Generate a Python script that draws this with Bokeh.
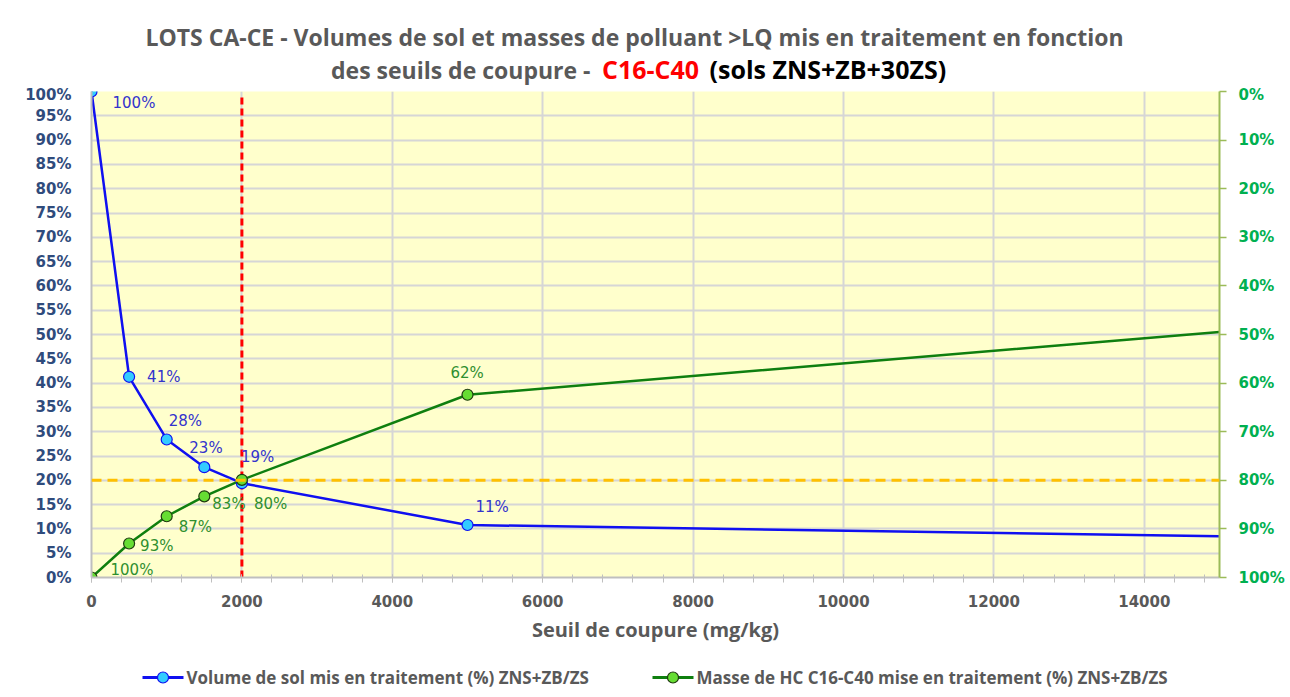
from bokeh.plotting import figure
from bokeh.layouts import column
from bokeh.models import (Range1d, LinearAxis, SingleIntervalTicker, PrintfTickFormatter,
                          Span, ColumnDataSource)
from bokeh.core.properties import value
from bokeh.embed import file_html
from bokeh.resources import INLINE

# ---------------- data ----------------
seuils = [0, 500, 1000, 1500, 2000, 5000, 15000]            # mg/kg
volume_pct = [100, 41.3, 28.4, 22.7, 19.4, 10.8, 8.5]        # left axis (%)
masse_pct = [100, 93.0, 87.4, 83.3, 79.9, 62.4, 49.5]        # right axis, reversed (%)
volume_labels = ["100%", "41%", "28%", "23%", "19%", "11%"]
masse_labels = ["100%", "93%", "87%", "83%", "80%", "62%"]
n_points = 6                                                  # labelled/marked points
seuil_retenu = 2000
volume_cible = 20
vertical_top = 98.8

title_line1 = "LOTS CA-CE - Volumes de sol et masses de polluant >LQ mis en traitement en fonction"
title_line2a = "des seuils de coupure -"
title_line2b = "C16-C40"
title_line2c = "(sols ZNS+ZB+30ZS)"
x_label = "Seuil de coupure (mg/kg)"
legend_volume = "Volume de sol mis en traitement (%) ZNS+ZB/ZS"
legend_masse = "Masse de HC C16-C40 mise en traitement  (%) ZNS+ZB/ZS"

# ---------------- style / layout ----------------
W = 1290
BORDER_L, BORDER_R = 91, 71
TITLE_H, MAIN_H, LEG_H = 85, 560, 52
vol_dx = [21, 18, 2, -15, -1, 8]
vol_dy = [11, 0, -18, -19, -26, -18]
mas_dx = [19, 11, 12, 8, 12, -17]
mas_dy = [-8, 3, 11, 8, 24, -22]

BLUE = "#1010F0"
BLUE_FILL = "#33CCFF"
GREEN = "#0F7F0F"
GREEN_FILL = "#66DD33"
MARKER_EDGE_G = "#1F3A10"
GRID = "#D6D6D6"
TITLE_GRAY = "#595959"


def bare_fig(h):
    # frames are aligned with the main chart's frame in a column layout,
    # so map the frame span to page pixel coordinates
    f = figure(width=W, height=h, output_backend="svg", toolbar_location=None,
               x_range=Range1d(BORDER_L, W - BORDER_R), y_range=Range1d(h, 0),
               min_border=0, min_border_left=BORDER_L, min_border_right=BORDER_R,
               outline_line_color=None, background_fill_color="white",
               border_fill_color="white")
    f.axis.visible = False
    f.grid.visible = False
    return f


# ---------------- title strip ----------------
t = bare_fig(TITLE_H)
t.text(x=[634], y=[36], text=[title_line1], text_font=value("Open Sans"),
       text_font_style="bold", text_font_size="23px", text_color=TITLE_GRAY,
       text_align="center", text_baseline="middle")
t.text(x=[590], y=[69], text=[title_line2a], text_font=value("Open Sans"),
       text_font_style="bold", text_font_size="23px", text_color=TITLE_GRAY,
       text_align="right", text_baseline="middle")
t.text(x=[650], y=[68], text=[title_line2b], text_font=value("Open Sans"),
       text_font_style="bold", text_font_size="25px", text_color="#FF0000",
       text_align="center", text_baseline="middle")
t.text(x=[709], y=[68], text=[title_line2c], text_font=value("Open Sans"),
       text_font_style="bold", text_font_size="25px", text_color="#000000",
       text_align="left", text_baseline="middle")

# ---------------- main chart ----------------
p = figure(width=W, height=MAIN_H, output_backend="svg", toolbar_location=None,
           x_range=Range1d(0, 15000), y_range=Range1d(0, 100),
           min_border_left=BORDER_L, min_border_right=BORDER_R, min_border_top=6,
           min_border_bottom=67,
           background_fill_color="#FFFFCC", border_fill_color="white",
           outline_line_color=None)
p.extra_y_ranges = {"right": Range1d(start=100, end=0)}

xa = p.xaxis[0]
xa.ticker = SingleIntervalTicker(interval=2000, num_minor_ticks=5)
xa.axis_line_color = "#BFBFBF"
xa.axis_line_width = 2
xa.major_tick_line_color = "#BFBFBF"
xa.minor_tick_line_color = "#BFBFBF"
xa.major_tick_in = 3
xa.major_tick_out = 5
xa.minor_tick_in = 3
xa.minor_tick_out = 5
xa.major_label_standoff = 12
xa.major_label_text_font = "DejaVu Sans"
xa.major_label_text_font_style = "bold"
xa.major_label_text_font_size = "15px"
xa.major_label_text_color = TITLE_GRAY
xa.axis_label = x_label
xa.axis_label_text_font = "Open Sans"
xa.axis_label_text_font_style = "bold"
xa.axis_label_text_font_size = "20px"
xa.axis_label_text_color = TITLE_GRAY
xa.axis_label_standoff = 6

ya = p.yaxis[0]
ya.ticker = SingleIntervalTicker(interval=5, num_minor_ticks=0)
ya.formatter = PrintfTickFormatter(format="%d%%")
ya.axis_line_color = "#BFBFBF"
ya.axis_line_width = 2
ya.major_tick_out = 0
ya.major_tick_in = 0
ya.minor_tick_line_color = None
ya.major_label_standoff = 20
ya.major_label_text_font = "DejaVu Sans"
ya.major_label_text_font_style = "bold"
ya.major_label_text_font_size = "15px"
ya.major_label_text_color = "#2F4B7C"

ra = LinearAxis(y_range_name="right",
                ticker=SingleIntervalTicker(interval=10, num_minor_ticks=0),
                formatter=PrintfTickFormatter(format="%d%%"))
ra.axis_line_color = "#9BBB59"
ra.axis_line_width = 2
ra.major_tick_line_color = "#9BBB59"
ra.major_tick_line_width = 1.5
ra.major_tick_in = 0
ra.major_tick_out = 7
ra.minor_tick_line_color = None
ra.major_label_standoff = 12
ra.major_label_text_font = "DejaVu Sans"
ra.major_label_text_font_style = "bold"
ra.major_label_text_font_size = "15px"
ra.major_label_text_color = "#00B050"
p.add_layout(ra, "right")

p.xgrid.grid_line_color = GRID
p.xgrid.grid_line_width = 2
p.ygrid.grid_line_color = GRID
p.ygrid.grid_line_width = 2

p.add_layout(Span(location=volume_cible, dimension="width", line_color="#FFC000",
                  line_width=3, line_dash="10 6"))
p.segment(x0=[seuil_retenu], y0=[0], x1=[seuil_retenu], y1=[vertical_top],
          line_color="#FF0000", line_width=3, line_dash="7 4")

p.line(seuils, volume_pct, line_color=BLUE, line_width=2.5)
p.line(seuils, masse_pct, line_color=GREEN, line_width=2.5, y_range_name="right")
p.scatter(seuils[:n_points], volume_pct[:n_points], size=11, marker="circle",
          fill_color=BLUE_FILL, line_color=BLUE, line_width=1.2)
p.scatter(seuils[:n_points], masse_pct[:n_points], size=11, marker="circle",
          fill_color=GREEN_FILL, line_color=MARKER_EDGE_G, line_width=1.2,
          y_range_name="right")

vsrc = ColumnDataSource(dict(x=seuils[:n_points], y=volume_pct[:n_points],
                             t=volume_labels, dx=vol_dx, dy=vol_dy))
msrc = ColumnDataSource(dict(x=seuils[:n_points], y=masse_pct[:n_points],
                             t=masse_labels, dx=mas_dx, dy=mas_dy))
p.text(x="x", y="y", text="t", x_offset="dx", y_offset="dy", source=vsrc,
       text_font=value("DejaVu Sans"), text_font_size="15px", text_color="#3333CC",
       text_align="left", text_baseline="middle")
p.text(x="x", y="y", text="t", x_offset="dx", y_offset="dy", source=msrc,
       text_font=value("DejaVu Sans"), text_font_size="15px", text_color="#2F8F2F",
       text_align="left", text_baseline="middle", y_range_name="right")

# ---------------- legend strip (drawn in pixel coordinates) ----------------
lg = bare_fig(LEG_H)
LEG_Y = 32
leg_items = [
    (legend_volume, 142, BLUE, BLUE_FILL, BLUE),
    (legend_masse, 652, GREEN, GREEN_FILL, MARKER_EDGE_G),
]
for label, x0, lc, fc, ec in leg_items:
    lg.segment(x0=[x0], y0=[LEG_Y], x1=[x0 + 41], y1=[LEG_Y], line_color=lc, line_width=3)
    lg.scatter(x=[x0 + 20.5], y=[LEG_Y], size=11, marker="circle", fill_color=fc,
               line_color=ec, line_width=1.2)
    lg.text(x=[x0 + 44], y=[LEG_Y], text=[label], text_font=value("Open Sans"),
            text_font_style="bold", text_font_size="17px", text_color=TITLE_GRAY,
            text_align="left", text_baseline="middle")

layout = column(t, p, lg, spacing=0)
open("out.html", "w").write(file_html(layout, INLINE))
